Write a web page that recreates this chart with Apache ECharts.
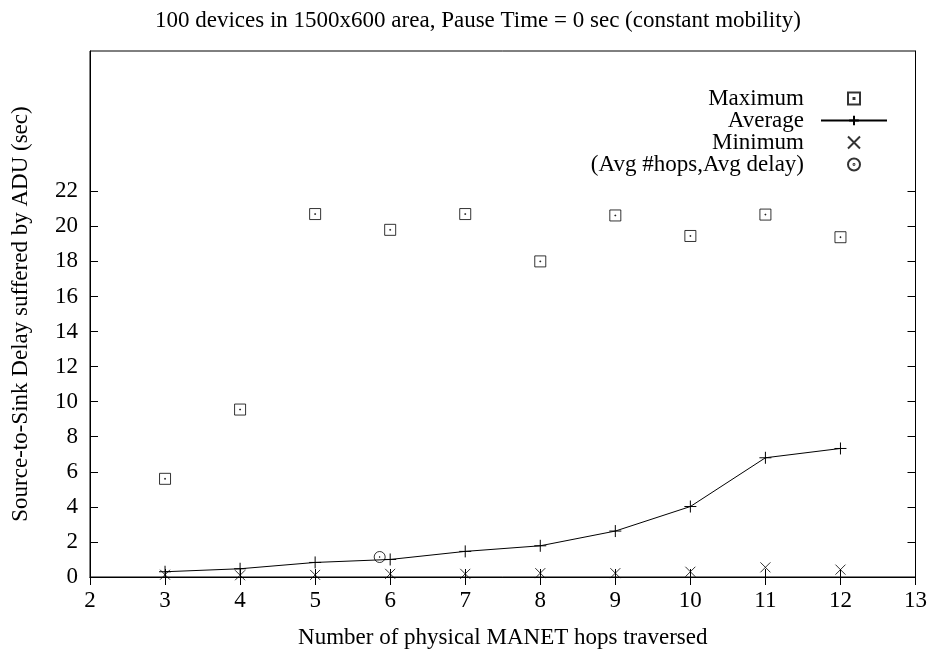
<!DOCTYPE html>
<html>
<head>
<meta charset="utf-8">
<script src="https://cdn.jsdelivr.net/npm/echarts@6/dist/echarts.min.js"></script>
<style>
  html, body { margin: 0; padding: 0; background: #fff; }
  #chart { width: 930px; height: 654px; }
</style>
</head>
<body>
<div id="chart"></div>
<script>
// Hop counts on the x axis
const hops = [3, 4, 5, 6, 7, 8, 9, 10, 11, 12];
// Source-to-sink delay per hop count (seconds)
const maxDelay = [5.6, 9.55, 20.7, 19.8, 20.7, 18.0, 20.62, 19.45, 20.67, 19.38];
const avgDelay = [0.3, 0.47, 0.83, 1.0, 1.46, 1.78, 2.62, 4.02, 6.8, 7.33];
const minDelay = [0.13, 0.1, 0.12, 0.18, 0.18, 0.22, 0.22, 0.3, 0.55, 0.42];
// Overall average: (avg #hops, avg delay)
const overallAvg = [[5.86, 1.14]];
// Y tick labels shown on the axis
const yTicks = [0, 2, 4, 6, 8, 10, 12, 14, 16, 18, 20, 22];

const pair = (xs, ys) => xs.map((x, i) => [x, ys[i]]);

const FONT = '"Liberation Serif", "DejaVu Serif", serif';
const FS = 23;
const BOX = 'path://M0,0 L10,0 L10,10 L0,10 Z M4.6,4.6 L5.4,4.6 L5.4,5.4 L4.6,5.4 Z';
const PLUS = 'path://M5,0 L5,10 M0,5 L10,5';
const CROSS = 'path://M0,0 L10,10 M10,0 L0,10';
const RING = 'path://M10,5 A5,5 0 1 1 0,5 A5,5 0 1 1 10,5 Z M5.4,5 A0.4,0.4 0 1 1 4.6,5 A0.4,0.4 0 1 1 5.4,5 Z';

const hollow = { color: 'rgba(0,0,0,0)', borderColor: '#000', borderWidth: 1 };

const chart = echarts.init(document.getElementById('chart'), null, { renderer: 'canvas' });

const tickStyle = { show: true, inside: true, length: 8, lineStyle: { color: '#000', width: 1 } };

chart.setOption({
  animation: false,
  backgroundColor: '#fff',
  textStyle: { fontFamily: FONT, color: '#000' },
  title: {
    text: '100 devices in 1500x600 area, Pause Time = 0 sec (constant mobility)',
    left: 155,
    top: 9,
    padding: 0,
    textStyle: { fontFamily: FONT, fontSize: FS, fontWeight: 'normal', color: '#000' }
  },
  legend: {
    orient: 'vertical',
    align: 'right',
    right: 42,
    top: 87,
    padding: 0,
    itemWidth: 66,
    itemHeight: 12,
    itemGap: -1,
    textStyle: { fontFamily: FONT, fontSize: FS, color: '#000', padding: [0, 12, 0, 0] },
    data: [
      { name: 'Maximum', icon: BOX },
      { name: 'Average' },
      { name: 'Minimum', icon: CROSS },
      { name: '(Avg #hops,Avg delay)', icon: RING }
    ]
  },
  grid: {
    left: 90, right: 14, top: 51, bottom: 75,
    show: true, borderColor: '#000', borderWidth: 1, backgroundColor: 'transparent'
  },
  xAxis: [
    {
      type: 'value', min: 2, max: 13, interval: 1,
      name: 'Number of physical MANET hops traversed',
      nameLocation: 'middle', nameGap: 49,
      nameTextStyle: { fontFamily: FONT, fontSize: FS, color: '#000' },
      axisLine: { show: true, onZero: false, lineStyle: { color: '#000', width: 1 } },
      axisTick: tickStyle,
      axisLabel: { fontFamily: FONT, fontSize: FS, color: '#000', margin: 12 },
      splitLine: { show: false }
    },
    {
      type: 'value', min: 2, max: 13, interval: 1, position: 'top',
      axisLine: { show: true, lineStyle: { color: '#000', width: 1 } },
      axisTick: tickStyle,
      axisLabel: { show: false },
      splitLine: { show: false }
    }
  ],
  yAxis: [
    {
      type: 'value', min: 0, max: 30, interval: 2,
      name: 'Source-to-Sink Delay suffered by ADU (sec)',
      nameLocation: 'middle', nameGap: 58,
      nameTextStyle: { fontFamily: FONT, fontSize: FS, color: '#000' },
      axisLine: { show: true, onZero: false, lineStyle: { color: '#000', width: 1 } },
      axisTick: Object.assign({ customValues: yTicks }, tickStyle),
      axisLabel: { customValues: yTicks, fontFamily: FONT, fontSize: FS, color: '#000', margin: 12 },
      splitLine: { show: false }
    },
    {
      type: 'value', min: 0, max: 30, interval: 2, position: 'right',
      axisLine: { show: true, lineStyle: { color: '#000', width: 1 } },
      axisTick: Object.assign({ customValues: yTicks }, tickStyle),
      axisLabel: { show: false },
      splitLine: { show: false }
    }
  ],
  series: [
    {
      name: 'Maximum', type: 'scatter',
      symbol: BOX, symbolSize: 11,
      itemStyle: hollow,
      data: pair(hops, maxDelay)
    },
    {
      name: 'Average', type: 'line',
      symbol: PLUS, symbolSize: 12, showAllSymbol: true,
      itemStyle: hollow,
      lineStyle: { color: '#000', width: 1 },
      data: pair(hops, avgDelay)
    },
    {
      name: 'Minimum', type: 'scatter',
      symbol: CROSS, symbolSize: 10,
      itemStyle: hollow,
      data: pair(hops, minDelay)
    },
    {
      name: '(Avg #hops,Avg delay)', type: 'scatter',
      symbol: RING, symbolSize: 11,
      itemStyle: hollow,
      data: overallAvg
    }
  ]
});
</script>
</body>
</html>
